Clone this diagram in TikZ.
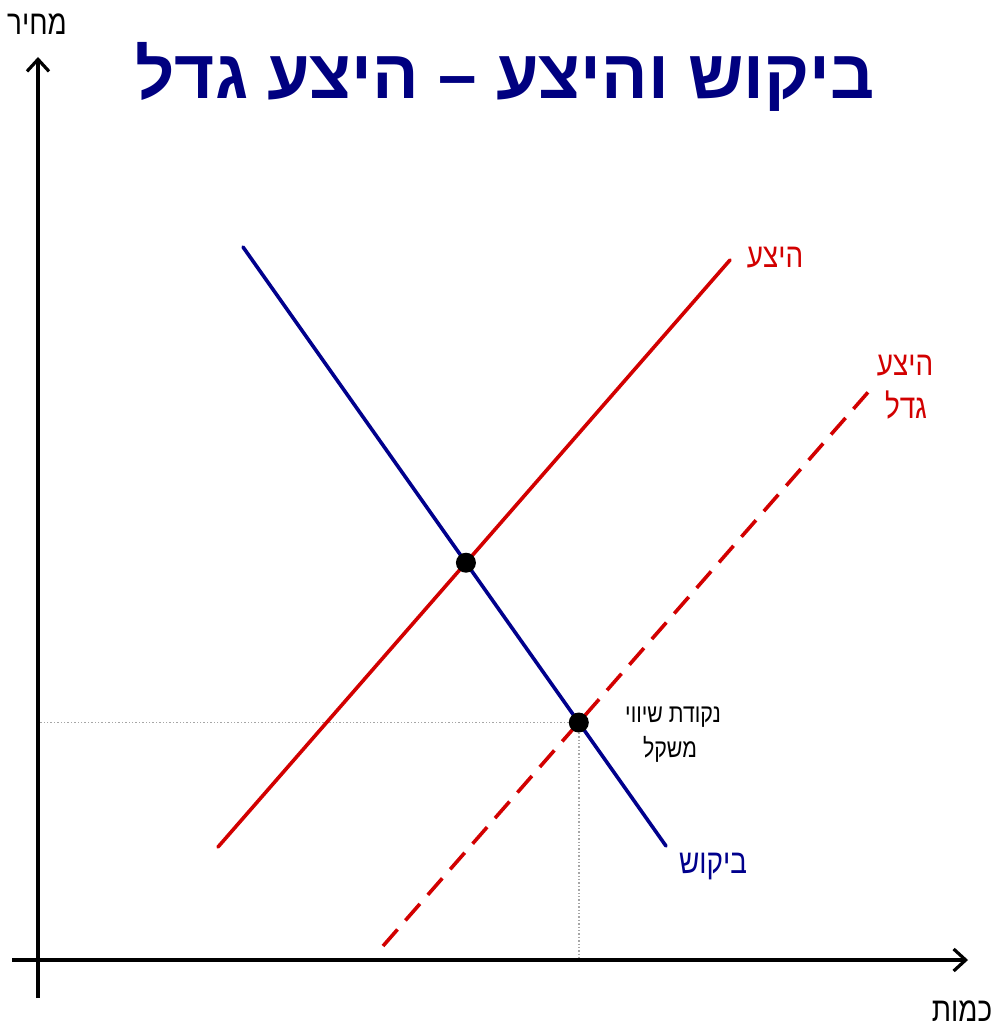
\documentclass[tikz,border=0pt]{standalone}
\usepackage{fontspec}
\usetikzlibrary{arrows.meta}
\TeXXeTstate=1
\newfontfamily\hebtitle[Script=Hebrew]{Liberation Sans}
\newfontfamily\heblabel[Script=Hebrew,FakeStretch=0.82]{Liberation Sans}
\definecolor{titlenavy}{RGB}{0,0,128}
\definecolor{demandnavy}{RGB}{0,0,140}
\definecolor{supplyred}{RGB}{210,0,0}

\begin{document}
\begin{tikzpicture}[x=1pt,y=-1pt,
  axisline/.style={draw=black,line width=3.2pt,-{Straight Barb[length=12pt,width=22pt,line width=3.2pt]}},
  curveline/.style={line width=3.6pt,line cap=round},
  guideline/.style={draw=black!35,line width=1.4pt,dotted},
  eqdot/.style={circle,fill=black,inner sep=0pt,minimum size=20pt},
  lbl/.style={anchor=base,inner sep=0pt,font=\heblabel\fontsize{34}{34}\selectfont}]
\useasboundingbox (0,0) rectangle (996,1027);
\coordinate (origin) at (38,960);
\coordinate (y-axis-low) at (38,998);
\coordinate (y-axis-top) at (38,57);
\coordinate (x-axis-low) at (12,960);
\coordinate (x-axis-top) at (968,960);
\coordinate (supply-start) at (218,847);
\coordinate (supply-end) at (730,260);
\coordinate (demand-start) at (243,247);
\coordinate (demand-end) at (666,846);
\coordinate (shifted-start) at (383,946);
\coordinate (shifted-end) at (870,390);
\coordinate (eq-high) at (intersection of supply-start--supply-end and demand-start--demand-end);
\coordinate (eq-low) at (intersection of shifted-start--shifted-end and demand-start--demand-end);
\path[guideline] (eq-low) -- (eq-low -| origin);
\path[guideline] (eq-low) -- (eq-low |- origin);
\path[axisline] (y-axis-low) -- (y-axis-top);
\path[axisline] (x-axis-low) -- (x-axis-top);
\path[curveline,draw=supplyred] (supply-start) -- (supply-end);
\path[curveline,draw=supplyred,line cap=butt,dash pattern=on 22pt off 12pt] (shifted-start) -- (shifted-end);
\path[curveline,draw=demandnavy] (demand-start) -- (demand-end);
\node[eqdot] (dot-high) at (eq-high) {};
\node[eqdot] (dot-low) at (eq-low) {};
\node[anchor=base,inner sep=0pt,text=titlenavy,font=\hebtitle\bfseries\fontsize{69}{69}\selectfont] (title) at (505,99) {\beginR ביקוש והיצע – היצע גדל\endR};
\node[lbl] (price-label) at (37,35) {\beginR מחיר\endR};
\node[lbl] (quantity-label) at (962,1021) {\beginR כמות\endR};
\node[lbl,text=supplyred] (supply-label) at (775,267) {\beginR היצע\endR};
\node[lbl,text=supplyred] (shifted-label-0) at (905,375) {\beginR היצע\endR};
\node[lbl,text=supplyred] (shifted-label-1) at (906,418) {\beginR גדל\endR};
\node[lbl,text=demandnavy] (demand-label) at (713,873) {\beginR ביקוש\endR};
\node[lbl,font=\heblabel\fontsize{26}{26}\selectfont] (eq-label-0) at (673,722) {\beginR נקודת שיווי\endR};
\node[lbl,font=\heblabel\fontsize{26}{26}\selectfont] (eq-label-1) at (670,757) {\beginR משקל\endR};
\end{tikzpicture}
\end{document}
